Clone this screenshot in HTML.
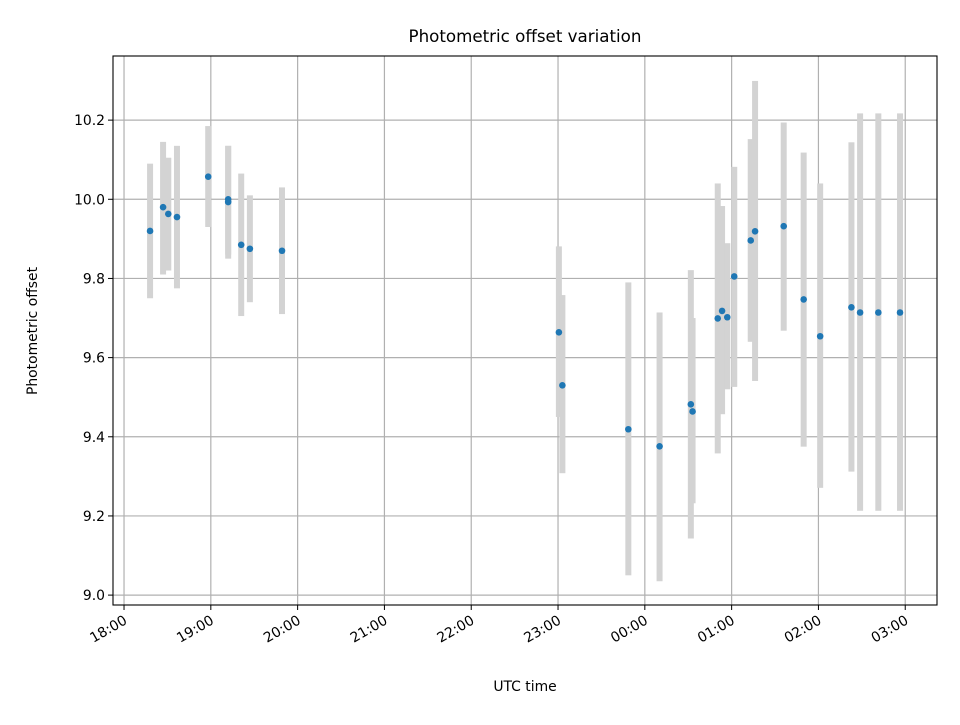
<!DOCTYPE html>
<html><head><meta charset="utf-8"><style>
body{margin:0;background:#fff}
svg text{font-family:"DejaVu Sans","Liberation Sans",sans-serif;fill:#000}
</style></head><body>
<svg id="chart" width="960" height="720" xmlns="http://www.w3.org/2000/svg">
<rect width="960" height="720" fill="#fff"/>
<text x="525" y="42" font-size="16.7" text-anchor="middle">Photometric offset variation</text>
<text x="525" y="691" font-size="13.9" text-anchor="middle">UTC time</text>
<text transform="translate(37,331) rotate(-90)" font-size="13.9" text-anchor="middle">Photometric offset</text>
<g id="grid"></g><g id="bars"></g><g id="pts"></g><g id="axes"></g>
</svg>
<script>
// hours since 18:00 UTC
const times=[0.30,0.45,0.51,0.61,0.97,1.20,1.20,1.35,1.45,1.82,5.01,5.05,5.81,6.17,6.53,6.55,6.84,6.89,6.95,7.03,7.22,7.27,7.60,7.83,8.02,8.38,8.48,8.69,8.94];
const values=[9.920,9.980,9.963,9.955,10.057,9.993,10.000,9.885,9.875,9.870,9.664,9.530,9.419,9.376,9.482,9.464,9.699,9.718,9.702,9.805,9.896,9.919,9.932,9.747,9.654,9.727,9.714,9.714,9.714];
const lows=[9.75,9.81,9.82,9.775,9.93,9.85,9.86,9.705,9.74,9.71,9.45,9.308,9.05,9.035,9.143,9.232,9.358,9.457,9.52,9.526,9.64,9.541,9.668,9.375,9.271,9.312,9.213,9.213,9.213];
const highs=[10.09,10.145,10.105,10.135,10.185,10.135,10.135,10.065,10.01,10.03,9.881,9.758,9.79,9.714,9.821,9.70,10.04,9.983,9.889,10.082,10.152,10.299,10.194,10.118,10.04,10.144,10.217,10.217,10.217];
const xTickLabels=["18:00","19:00","20:00","21:00","22:00","23:00","00:00","01:00","02:00","03:00"];
const yTicks=[9.0,9.2,9.4,9.6,9.8,10.0,10.2];

const L=113,R=937,T=56,B=605;
const x0=-0.127,x1=9.366,y0=8.975,y1=10.362;
const X=h=>L+(h-x0)/(x1-x0)*(R-L);
const Y=v=>B-(v-y0)/(y1-y0)*(B-T);
const NS="http://www.w3.org/2000/svg";
function mk(t,a,p){const e=document.createElementNS(NS,t);for(const k in a)e.setAttribute(k,a[k]);p.appendChild(e);return e;}
const grid=document.getElementById('grid'),bars=document.getElementById('bars'),pts=document.getElementById('pts'),axes=document.getElementById('axes');
xTickLabels.forEach((lab,i)=>{
  const x=X(i);
  const g=mk('line',{x1:x,x2:x,y1:T,y2:B,stroke:'#b0b0b0','stroke-width':1.2},grid);
  
  
  const tk=mk('line',{x1:x,x2:x,y1:B,y2:B+5,stroke:'#000','stroke-width':1},axes);
  
  
  const t=mk('text',{transform:`translate(${x+4},${B+18}) rotate(-30)`,'font-size':13.9,'text-anchor':'end'},axes);
  t.textContent=lab;
  
  
});
yTicks.forEach(v=>{
  const y=Y(v);
  const g=mk('line',{x1:L,x2:R,y1:y,y2:y,stroke:'#b0b0b0','stroke-width':1.2},grid);
  
  
  const tk=mk('line',{x1:L-5,x2:L,y1:y,y2:y,stroke:'#000','stroke-width':1},axes);
  
  
  const t=mk('text',{x:L-8,y:y+5,'font-size':13.9,'text-anchor':'end'},axes);
  t.textContent=v.toFixed(1);
  
  
});
times.forEach((h,i)=>{
  const b=mk('rect',{x:X(h)-3,y:Y(highs[i]),width:6,height:Y(lows[i])-Y(highs[i]),fill:'#d3d3d3'},bars);
  
  
});
times.forEach((h,i)=>{
  const c=mk('circle',{cx:X(h),cy:Y(values[i]),r:3.3,fill:'#1f77b4'},pts);
  
  
});
const f=mk('rect',{x:L,y:T,width:R-L,height:B-T,fill:'none',stroke:'#000','stroke-width':1.1},axes);


</script>
</body></html>
